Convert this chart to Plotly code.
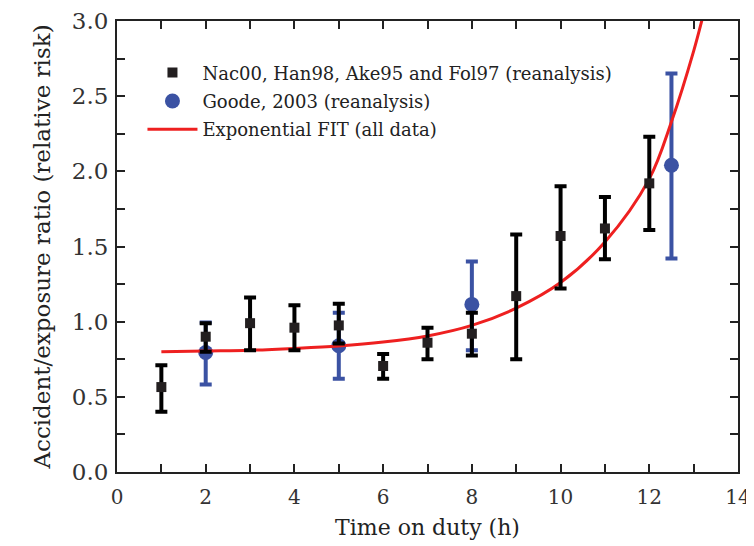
import plotly.graph_objects as go

# Nac00, Han98, Ake95 and Fol97 (reanalysis)
blk_x = [1, 2, 3, 4, 5, 6, 7, 8, 9, 10, 11, 12]
blk_y = [0.565, 0.90, 0.99, 0.96, 0.975, 0.705, 0.86, 0.92, 1.17, 1.57, 1.62, 1.92]
blk_hi = [0.71, 0.99, 1.16, 1.11, 1.12, 0.785, 0.96, 1.06, 1.58, 1.90, 1.83, 2.23]
blk_lo = [0.40, 0.80, 0.81, 0.81, 0.855, 0.62, 0.75, 0.775, 0.75, 1.22, 1.415, 1.61]

# Goode, 2003 (reanalysis)
blu_x = [2, 5, 8, 12.5]
blu_y = [0.795, 0.84, 1.115, 2.04]
blu_hi = [0.995, 1.06, 1.40, 2.65]
blu_lo = [0.582, 0.62, 0.81, 1.42]

# Exponential FIT (all data)
fit_x = [1, 2, 3, 4, 5, 6, 7, 8, 9, 10, 11, 12, 12.5, 13, 13.25]
fit_y = [0.80, 0.805, 0.81, 0.822, 0.838, 0.864, 0.905, 0.975, 1.09, 1.26, 1.53, 1.95, 2.33, 2.80, 3.08]

x_ticks = [0, 2, 4, 6, 8, 10, 12, 14]
y_ticks = [0.0, 0.5, 1.0, 1.5, 2.0, 2.5, 3.0]

FONT = "DejaVu Serif"
BLUE = "#3b52a3"
RED = "#ee2020"

fig = go.Figure()

fig.add_trace(go.Scatter(
    x=blu_x, y=blu_y, mode="markers", name="Goode, 2003 (reanalysis)",
    marker=dict(symbol="circle", size=15, color=BLUE),
    error_y=dict(type="data", symmetric=False,
                 array=[h - v for h, v in zip(blu_hi, blu_y)],
                 arrayminus=[v - l for l, v in zip(blu_lo, blu_y)],
                 color=BLUE, thickness=4, width=6),
    legendrank=2, legendgroup="b",
))

fig.add_trace(go.Scatter(
    x=fit_x, y=fit_y, mode="lines", name="Exponential FIT (all data)",
    line=dict(color=RED, width=3, shape="spline"),
    legendrank=3, legendgroup="c",
))

fig.add_trace(go.Scatter(
    x=blk_x, y=blk_y, mode="markers", name="Nac00, Han98, Ake95 and Fol97 (reanalysis)",
    marker=dict(symbol="square", size=10, color="#231f20"),
    error_y=dict(type="data", symmetric=False,
                 array=[h - v for h, v in zip(blk_hi, blk_y)],
                 arrayminus=[v - l for l, v in zip(blk_lo, blk_y)],
                 color="black", thickness=4, width=6),
    legendrank=1, legendgroup="a",
))

axis_common = dict(
    showline=True, linecolor="#222", linewidth=2, mirror="allticks",
    ticks="inside", ticklen=8, tickwidth=2, tickcolor="#222",
    showgrid=False, zeroline=False, automargin=False,
    ticklabeloverflow="allow",
)

fig.update_xaxes(
    range=[0, 14], tickvals=x_ticks, ticktext=[str(v) for v in x_ticks],
    minor=dict(dtick=1, tick0=0, ticks="inside", ticklen=8, tickwidth=2, tickcolor="#222"),
    ticklabelstandoff=6,
    tickfont=dict(family=FONT, size=20, color="#333"),
    title=dict(text="Time on duty (h)", font=dict(family=FONT, size=22, color="#222"), standoff=12),
    **axis_common,
)
fig.update_yaxes(
    range=[0, 3], tickvals=y_ticks, ticktext=[f"{v:.1f}" for v in y_ticks],
    minor=dict(dtick=0.25, tick0=0, ticks="inside", ticklen=8, tickwidth=2, tickcolor="#222"),
    ticklabelstandoff=2,
    tickfont=dict(family=FONT, size=23, color="#333"),
    title=dict(text="Accident/exposure ratio (relative risk)", font=dict(family=FONT, size=23, color="#222"), standoff=15),
    **axis_common,
)

fig.update_layout(
    width=746, height=538,
    margin=dict(l=109, r=16, t=13, b=74),
    paper_bgcolor="white", plot_bgcolor="white",
    showlegend=True,
    legend=dict(x=0.041, y=0.926, xanchor="left", yanchor="top",
                bgcolor="rgba(0,0,0,0)", font=dict(family=FONT, size=18, color="#222"),
                itemwidth=50, tracegroupgap=2),
)

fig.write_html("out.html")
